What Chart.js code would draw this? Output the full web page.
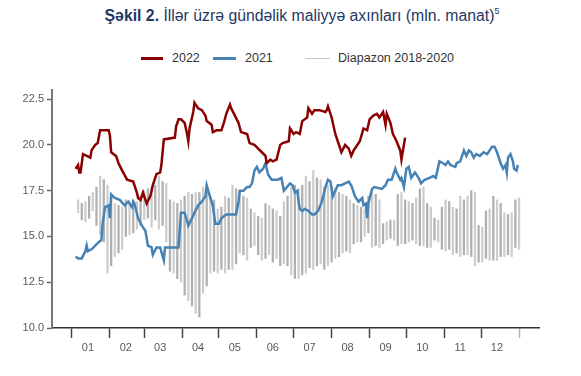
<!DOCTYPE html>
<html>
<head>
<meta charset="utf-8">
<script src="https://cdn.jsdelivr.net/npm/chart.js@4.4.1/dist/chart.umd.min.js"></script>
<style>
  html, body { margin: 0; padding: 0; background: #fff; }
  #wrap { position: relative; width: 581px; height: 376px; font-family: 'Liberation Sans', Arial, sans-serif; }
  #chart { position: absolute; left: 0; top: 0; }
  .title { position: absolute; top: 6px; left: 0; width: 604px; text-align: center; font-size: 15.8px; color: #1f3864; white-space: nowrap; }
  .title b { font-weight: bold; }
  .title sup { font-size: 9px; vertical-align: 7px; }
  .lg-line { position: absolute; top: 57px; height: 3px; }
  .lg-text { position: absolute; top: 51px; font-size: 12.5px; color: #333; white-space: nowrap; }
</style>
</head>
<body>
<div id="wrap">
  <div class="title"><b>Şəkil 2.</b> İllər üzrə gündəlik maliyyə axınları (mln. manat)<sup>5</sup></div>
  <div class="lg-line" style="left:141px; width:22px; background:#8b0000;"></div>
  <div class="lg-text" style="left:172px;">2022</div>
  <div class="lg-line" style="left:213px; width:23px; background:#4682b4;"></div>
  <div class="lg-text" style="left:245px;">2021</div>
  <div class="lg-line" style="left:305px; width:25px; height:1px; top:58px; background:#c4c4c4;"></div>
  <div class="lg-text" style="left:338px;">Diapazon 2018-2020</div>
  <canvas id="chart" width="581" height="376"></canvas>
</div>
<script>
// ==================== DATOS ====================

// meses (etiquetas) y primer día de cada mes (día del año)
const months = ['01', '02', '03', '04', '05', '06', '07', '08', '09', '10', '11', '12'];
const monthStarts = [0, 31, 59, 90, 120, 151, 181, 212, 243, 273, 304, 334, 365];
const yTicks = [10, 12.5, 15, 17.5, 20, 22.5];

// 2022 (día del año, valor)
const days2022 = [3, 5, 6, 7, 9, 12, 15, 16, 19, 21, 23, 26, 30, 31, 32, 36, 38, 41, 45, 50,
  53, 54, 56, 58, 60, 61, 64, 66, 69, 72, 73, 75, 84, 85, 87, 89, 92, 94, 95, 96,
  99, 100, 103, 106, 109, 110, 114, 115, 118, 122, 124, 126, 129, 130, 133, 136, 138, 143, 145, 149,
  152, 155, 158, 159, 162, 164, 167, 170, 172, 177, 178, 181, 183, 186, 188, 192, 193, 196, 198, 202,
  207, 208, 209, 212, 215, 217, 220, 223, 226, 228, 230, 232, 235, 238, 241, 243, 246, 249, 251, 254,
  256, 257, 260, 262, 265, 268, 269, 270, 272];
const values2022 = [18.7, 18.9, 18.5, 18.5, 19.5, 19.4, 19.3, 19.7, 20.0, 20.1, 20.8, 20.8, 20.8, 20.5, 19.6, 19.4, 19.0, 18.6, 18.1, 18.0,
  17.4, 17.1, 17.0, 17.4, 17.0, 16.8, 17.2, 17.8, 18.4, 18.5, 18.9, 20.3, 20.4, 21.0, 21.4, 21.4, 21.2, 20.6, 20.2, 20.9,
  21.8, 22.3, 22.0, 21.9, 21.6, 21.3, 21.1, 20.7, 20.8, 20.8, 21.2, 21.7, 22.2, 22.0, 21.6, 21.2, 20.7, 20.6, 20.1, 20.0,
  19.8, 19.6, 19.4, 19.0, 19.2, 19.1, 19.2, 20.0, 20.1, 20.2, 20.9, 20.6, 20.7, 20.6, 21.3, 21.5, 22.0, 21.7, 21.9, 21.9,
  21.8, 21.9, 22.1, 21.5, 20.6, 20.2, 19.6, 20.0, 19.8, 19.4, 19.7, 19.9, 20.2, 20.9, 20.8, 21.4, 21.6, 21.7, 21.5, 21.8,
  21.1, 21.7, 21.2, 20.6, 20.2, 19.7, 19.2, 19.6, 20.4];

// 2021 (día del año, valor)
const days2021 = [3, 5, 8, 11, 12, 13, 16, 19, 22, 24, 25, 27, 30, 31, 32, 35, 39, 43, 46, 49,
  50, 51, 54, 57, 60, 62, 65, 66, 69, 72, 75, 76, 87, 89, 92, 95, 98, 100, 103, 106,
  109, 110, 113, 115, 117, 120, 122, 126, 134, 136, 137, 140, 143, 145, 147, 149, 151, 153, 156, 158,
  160, 163, 168, 171, 173, 178, 180, 182, 184, 185, 186, 188, 190, 193, 196, 198, 201, 204, 207, 209,
  211, 213, 215, 217, 220, 223, 226, 228, 231, 234, 237, 238, 240, 241, 242, 245, 247, 253, 256, 258,
  261, 264, 265, 268, 269, 271, 273, 275, 277, 280, 283, 285, 288, 292, 295, 297, 300, 303, 305, 307,
  309, 313, 314, 317, 320, 322, 324, 326, 328, 330, 333, 336, 339, 341, 343, 345, 347, 350, 352, 354,
  355, 356, 358, 360, 361, 363, 364];
const values2021 = [13.9, 13.8, 13.8, 14.2, 14.5, 14.2, 14.3, 14.5, 14.7, 14.8, 15.7, 16.6, 16.7, 16.0, 17.3, 17.1, 17.0, 16.7, 16.9, 16.6,
  16.9, 16.8, 16.0, 15.6, 15.3, 14.5, 14.4, 14.0, 14.4, 14.4, 13.7, 14.4, 14.4, 16.3, 16.3, 15.6, 16.0, 16.3, 16.7, 16.9,
  17.2, 17.8, 17.1, 16.7, 15.7, 15.7, 16.0, 16.2, 16.2, 16.9, 17.5, 17.5, 17.7, 17.7, 17.9, 18.6, 18.8, 18.5, 18.7, 19.0,
  18.4, 18.1, 18.1, 18.2, 17.5, 17.9, 17.8, 17.4, 17.5, 16.9, 16.5, 16.4, 16.5, 16.4, 16.2, 16.2, 16.4, 16.9, 17.7, 18.1,
  18.0, 17.2, 17.5, 17.8, 17.8, 17.9, 18.0, 17.8, 17.2, 16.9, 17.1, 16.7, 16.8, 16.0, 16.8, 17.6, 17.7, 17.6, 17.8, 18.1,
  18.1, 18.7, 18.5, 18.1, 18.2, 17.7, 18.7, 18.8, 18.2, 18.5, 18.2, 17.9, 18.1, 18.2, 18.3, 18.2, 19.1, 19.0, 18.9, 19.1,
  18.9, 18.8, 19.0, 19.1, 19.7, 19.4, 19.7, 19.6, 19.3, 19.5, 19.4, 19.6, 19.5, 19.7, 19.9, 19.9, 19.6, 19.0, 18.7, 18.9,
  18.5, 19.3, 19.5, 19.1, 18.7, 18.6, 18.9];

// Diapazon 2018-2020: un par (mín, máx) cada 3 días desde el día 5
const rangeFirstDay = 5;
const rangeStepDays = 3;
const rangeHigh = [17.0, 16.8, 16.9, 17.2, 17.4, 17.7, 18.3, 18.1, 17.8, 17.2,
  16.8, 16.7, 16.6, 17.0, 16.9, 17.0, 16.9, 17.2, 17.5, 17.6,
  17.7, 17.8, 18.3, 18.0, 17.9, 17.0, 16.9, 16.8, 17.0, 17.2,
  17.4, 17.3, 17.4, 17.4, 17.7, 17.6, 17.2, 17.0, 16.5, 16.6,
  17.2, 17.1, 17.8, 17.6, 17.4, 17.2, 17.1, 16.5, 16.3, 16.1,
  16.0, 16.8, 16.7, 16.5, 16.4, 16.1, 16.9, 17.2, 17.7, 17.8,
  17.6, 17.8, 18.3, 18.0, 18.6, 18.2, 18.1, 17.7, 17.8, 17.7,
  17.6, 17.4, 17.3, 17.2, 17.0, 16.8, 16.7, 16.6, 16.5, 17.2,
  17.4, 17.3, 17.0, 15.7, 15.8, 15.9, 15.9, 17.3, 17.4, 17.0,
  16.9, 16.8, 17.1, 17.6, 17.7, 16.8, 16.6, 16.0, 15.9, 16.6,
  17.0, 16.9, 16.6, 16.5, 17.2, 17.0, 17.2, 17.5, 17.4, 15.6,
  15.5, 16.4, 16.5, 17.2, 17.0, 16.8, 16.3, 16.2, 16.3, 17.0,
  17.1];
const rangeLow = [16.3, 15.9, 15.8, 16.0, 16.4, 15.6, 15.1, 14.7, 13.0, 13.4,
  13.9, 14.1, 14.3, 15.0, 15.1, 15.2, 15.4, 15.6, 15.9, 16.0,
  15.5, 15.9, 15.4, 15.6, 14.7, 13.1, 13.0, 12.7, 12.5, 11.8,
  11.5, 11.2, 10.8, 10.6, 11.9, 12.3, 13.0, 13.1, 13.0, 13.2,
  13.0, 13.2, 13.2, 13.5, 14.1, 14.0, 13.7, 14.4, 14.5, 14.0,
  13.7, 13.8, 14.0, 13.6, 13.8, 13.4, 13.5, 13.4, 12.9, 12.7,
  12.7, 12.9, 13.0, 13.3, 13.2, 13.4, 13.5, 13.2, 13.4, 13.6,
  13.8, 13.9, 14.1, 14.2, 14.1, 14.6, 14.7, 14.7, 15.0, 15.2,
  14.4, 14.5, 14.4, 14.6, 14.8, 14.9, 14.8, 14.5, 14.6, 14.6,
  14.7, 14.8, 14.6, 14.5, 14.5, 14.4, 14.4, 14.8, 14.7, 14.3,
  14.2, 14.3, 14.0, 14.1, 13.9, 14.0, 14.0, 13.9, 13.4, 13.6,
  13.6, 13.8, 13.7, 13.7, 13.7, 13.9, 13.9, 14.0, 13.9, 14.4,
  14.3];

// ==================== CONFIGURACIÓN ====================

Chart.defaults.font.family = "'Liberation Sans', Arial, sans-serif";

const labelOffsetDays = 13; // etiqueta del mes algo antes de la mitad
const labelDays = monthStarts.slice(0, 12).map(d => d + labelOffsetDays);

const toPoints = (xs, ys) => xs.map((x, i) => ({ x: x, y: ys[i] }));

const rangeData = rangeHigh.map((h, i) => ({
    x: rangeFirstDay + i * rangeStepDays,
    y: [rangeLow[i], h]
}));

const ctx = document.getElementById('chart');

new Chart(ctx, {
    type: 'bar',
    data: {
        datasets: [
            {
                type: 'line',
                label: '2022',
                data: toPoints(days2022, values2022),
                borderColor: '#8b0000',
                borderWidth: 2.5,
                pointRadius: 0,
                tension: 0,
                order: 1
            },
            {
                type: 'line',
                label: '2021',
                data: toPoints(days2021, values2021),
                borderColor: '#4682b4',
                borderWidth: 2.5,
                pointRadius: 0,
                tension: 0,
                order: 2
            },
            {
                type: 'bar',
                label: 'Diapazon 2018-2020',
                data: rangeData,
                backgroundColor: (c) => (c.dataIndex % 2 ? '#b0b0b0' : '#cdcdcd'),
                borderWidth: 0,
                barThickness: 1.6,
                grouped: false,
                order: 3
            }
        ]
    },
    options: {
        responsive: false,
        animation: false,
        layout: { padding: { top: 90, right: 42, bottom: 0, left: 0 } },
        plugins: {
            legend: { display: false },
            tooltip: { enabled: false }
        },
        scales: {
            x: {
                type: 'linear',
                min: -16.3,
                max: 381.3,
                offset: false,
                afterBuildTicks: (s) => {
                    s.ticks = monthStarts.concat(labelDays).sort((a, b) => a - b).map(v => ({ value: v }));
                },
                afterFit: (s) => { s.height = 48; },
                grid: {
                    display: true,
                    drawOnChartArea: false,
                    offset: false,
                    tickLength: 10,
                    tickWidth: 1.5,
                    tickColor: (c) => {
                        const v = c.tick ? c.tick.value : null;
                        if (v === 365) return '#b5b5b5';
                        return monthStarts.includes(v) ? '#444' : 'rgba(0,0,0,0)';
                    }
                },
                border: { display: true, color: '#333', width: 1.5 },
                ticks: {
                    autoSkip: false,
                    maxRotation: 0,
                    padding: 3,
                    color: '#595959',
                    font: { size: 11 },
                    callback: (v) => {
                        const i = labelDays.indexOf(v);
                        return i >= 0 ? months[i] : '';
                    }
                }
            },
            y: {
                min: 10,
                max: 23,
                afterBuildTicks: (s) => { s.ticks = yTicks.map(v => ({ value: v })); },
                afterFit: (s) => { s.width = 52; },
                grid: {
                    display: true,
                    drawOnChartArea: false,
                    tickLength: 5,
                    tickWidth: 1.5,
                    tickColor: '#666'
                },
                border: { display: true, color: '#777', width: 2 },
                ticks: {
                    padding: 3,
                    color: '#595959',
                    font: { size: 11 },
                    callback: (v) => v.toFixed(1)
                }
            }
        }
    }
});
</script>
</body>
</html>
